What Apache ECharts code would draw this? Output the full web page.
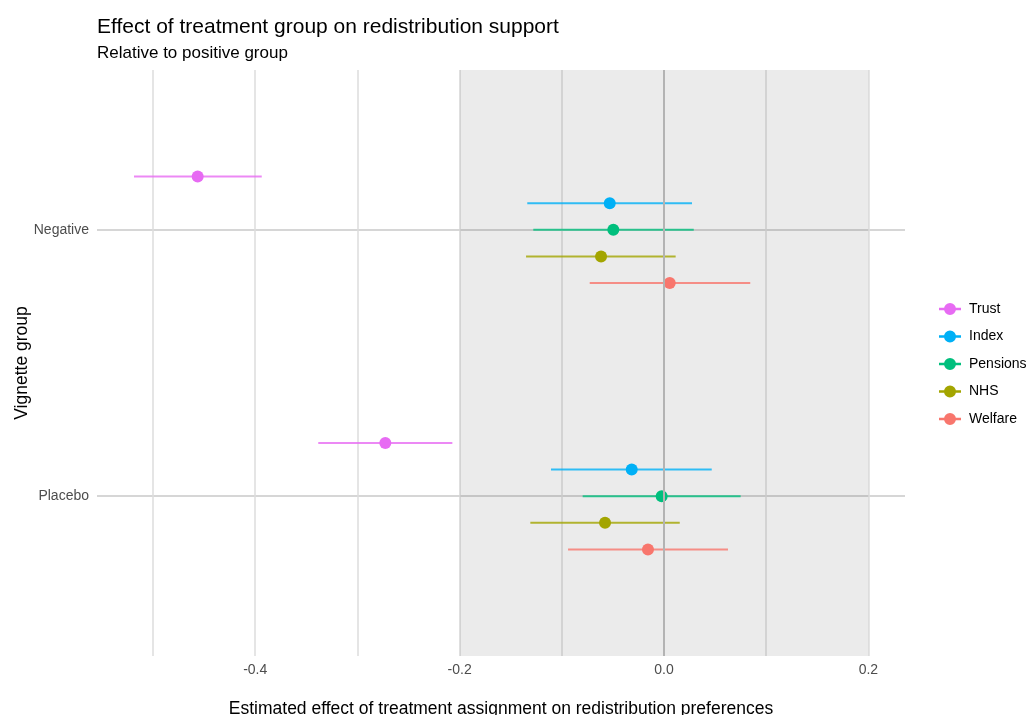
<!DOCTYPE html>
<html>
<head>
<meta charset="utf-8">
<script src="https://cdn.jsdelivr.net/npm/echarts@6/dist/echarts.min.js"></script>
<style>
  html, body { margin: 0; padding: 0; background: #fff; }
  #chart { width: 1026px; height: 715px; }
</style>
</head>
<body>
<div id="chart"></div>
<script>
  // y positions: Placebo = 1, Negative = 2
  const groups = ['Placebo', 'Negative'];
  const outcomes = ['Trust', 'Index', 'Pensions', 'NHS', 'Welfare'];
  const colors = ['#E76BF3', '#00B0F6', '#00BF7D', '#A3A500', '#F8766D'];
  const dodge = [0.2, 0.1, 0, -0.1, -0.2];

  const estNegative = [-0.4563, -0.0531, -0.0496, -0.0616, 0.0056];
  const lowNegative = [-0.5186, -0.1338, -0.1279, -0.1350, -0.0727];
  const highNegative = [-0.3936, 0.0274, 0.0291, 0.0114, 0.0844];

  const estPlacebo = [-0.2727, -0.0316, -0.0023, -0.0577, -0.0157];
  const lowPlacebo = [-0.3383, -0.1106, -0.0796, -0.1308, -0.0939];
  const highPlacebo = [-0.2071, 0.0467, 0.0750, 0.0154, 0.0626];

  const xLabels = [-0.4, -0.2, 0, 0.2];
  const xGrid = [-0.5, -0.4, -0.3, -0.2, -0.1, 0, 0.1, 0.2];

  const font = 'Liberation Sans, Arial, sans-serif';
  const chart = echarts.init(document.getElementById('chart'));

  let series = [];
  // background bits: shaded band, zero line
  series.push({
    type: 'scatter',
    data: [],
    silent: true,
    markArea: {
      silent: true,
      itemStyle: { color: 'rgba(0,0,0,0.08)' },
      data: [[{ xAxis: -0.2 }, { xAxis: 0.2 }]]
    },
    markLine: {
      silent: true,
      symbol: 'none',
      label: { show: false },
      lineStyle: { color: '#b3b3b3', width: 2, type: 'solid' },
      data: [{ xAxis: 0 }]
    }
  });

  outcomes.forEach((name, i) => {
    let bars = [
      [lowPlacebo[i], highPlacebo[i], 1 + dodge[i]],
      [lowNegative[i], highNegative[i], 2 + dodge[i]]
    ];
    series.push({
      name: name,
      type: 'custom',
      itemStyle: { color: colors[i] },
      data: bars,
      renderItem: function (params, api) {
        let a = api.coord([api.value(0), api.value(2)]);
        let b = api.coord([api.value(1), api.value(2)]);
        return {
          type: 'line',
          shape: { x1: a[0], y1: a[1], x2: b[0], y2: b[1] },
          style: { stroke: colors[i], lineWidth: 2, opacity: 0.8 }
        };
      },
      z: 3
    });
    series.push({
      name: name,
      type: 'scatter',
      symbolSize: 12,
      itemStyle: { color: colors[i], opacity: 1 },
      data: [[estPlacebo[i], 1 + dodge[i]], [estNegative[i], 2 + dodge[i]]],
      z: 4
    });
  });

  let option = {
    animation: false,
    textStyle: { fontFamily: font },
    title: [
      {
        text: 'Effect of treatment group on redistribution support',
        left: 97, top: 17, padding: 0,
        textStyle: { fontFamily: font, fontSize: 21, fontWeight: 'normal', color: '#000' }
      },
      {
        text: 'Relative to positive group',
        left: 97, top: 45, padding: 0,
        textStyle: { fontFamily: font, fontSize: 17, fontWeight: 'normal', color: '#000' }
      }
    ],
    grid: { left: 97, right: 121, top: 70, bottom: 59, containLabel: false, outerBoundsMode: 'none' },
    legend: {
      orient: 'vertical',
      left: 934,
      top: 297,
      itemWidth: 22,
      itemHeight: 12,
      itemGap: 13.5,
      data: outcomes.map((n) => ({
        name: n,
        icon: 'path://M0,4.8 L22,4.8 L22,7.2 L0,7.2 Z M5,6 A6,6 0 1,1 17,6 A6,6 0 1,1 5,6 Z'
      })),
      textStyle: { fontFamily: font, fontSize: 14, color: '#000', padding: [0, 0, 0, 3] },
      selectedMode: false
    },
    xAxis: {
      type: 'value',
      min: -0.5548,
      max: 0.2358,
      name: 'Estimated effect of treatment assignment on redistribution preferences',
      nameLocation: 'middle',
      nameGap: 44,
      nameMoveOverlap: false,
      nameTextStyle: { fontFamily: font, fontSize: 17.5, color: '#000' },
      axisLine: { show: false },
      axisTick: { show: false, customValues: xGrid },
      axisLabel: {
        customValues: xLabels,
        margin: 7,
        fontSize: 14,
        color: '#4d4d4d',
        formatter: (v) => v.toFixed(1)
      },
      splitLine: { show: true, lineStyle: { color: '#dcdcdc', width: 1.5 } }
    },
    yAxis: {
      type: 'value',
      min: 0.4,
      max: 2.6,
      name: 'Vignette group',
      nameLocation: 'middle',
      nameRotate: 90,
      nameGap: 66,
      nameMoveOverlap: false,
      nameTextStyle: { fontFamily: font, fontSize: 17.5, color: '#000' },
      axisLine: { show: false },
      axisTick: { show: false, customValues: [1, 2] },
      axisLabel: {
        customValues: [1, 2],
        margin: 8,
        fontSize: 14,
        color: '#4d4d4d',
        formatter: (v) => groups[Math.round(v) - 1]
      },
      splitLine: { show: true, lineStyle: { color: '#d6d6d6', width: 2 } }
    },
    series: series
  };
  chart.setOption(option);
</script>
</body>
</html>
